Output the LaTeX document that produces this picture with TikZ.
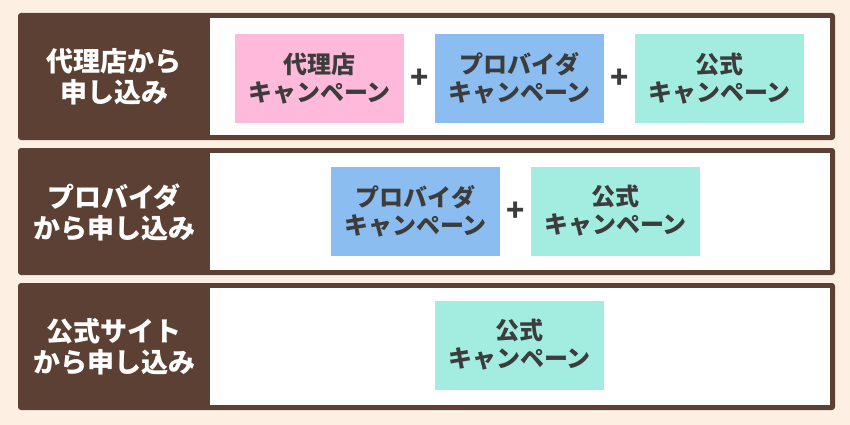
\documentclass[tikz,border=0pt]{standalone}
\usepackage{fontspec}
\setmainfont{Noto Sans CJK JP}
\definecolor{bg}{RGB}{253,240,226}
\definecolor{brn}{RGB}{91,64,51}
\definecolor{pinkc}{RGB}{255,185,218}
\definecolor{bluec}{RGB}{139,189,240}
\definecolor{tealc}{RGB}{163,237,224}
\definecolor{txt}{RGB}{60,60,60}
\begin{document}
\begin{tikzpicture}[x=1pt,y=-1pt,
  rowbg/.style={fill=brn,rounded corners=3pt},
  inner/.style={fill=white},
  camp/.style={minimum width=169pt,minimum height=89pt,inner sep=0pt,align=center,
    font=\fontsize{24}{28}\selectfont\bfseries,text=txt},
  lab/.style={align=center,font=\fontsize{27}{31}\selectfont\bfseries,text=white},
  plus/.style={font=\fontsize{30}{30}\selectfont\bfseries,text=txt,inner sep=0pt}]
\useasboundingbox (0,0) rectangle (850,425);
\fill[bg] (0,0) rectangle (850,425);
% rows
\foreach \y in {0,135,270}{
  \fill[rowbg] (18,13+\y) rectangle (835,140+\y);
  \fill[inner] (210,18+\y) rectangle (830,135+\y);
}
% labels
\node[lab] (l1) at (114,77) {代理店から\\申し込み};
\node[lab] (l2) at (114,212) {プロバイダ\\から申し込み};
\node[lab] (l3) at (114,347) {公式サイト\\から申し込み};
% row 1
\node[camp,fill=pinkc] (a1) at (319.5,78.5) {代理店\\キャンペーン};
\node[camp,fill=bluec] (a2) at (519.5,78.5) {プロバイダ\\キャンペーン};
\node[camp,fill=tealc] (a3) at (719.5,78.5) {公式\\キャンペーン};
\node[plus] (p1) at (419.5,79) {+};
\node[plus] (p2) at (619.5,79) {+};
% row 2
\node[camp,fill=bluec] (b1) at (415.5,211) {プロバイダ\\キャンペーン};
\node[camp,fill=tealc] (b2) at (615.5,211) {公式\\キャンペーン};
\node[plus] (p3) at (515.5,212) {+};
% row 3
\node[camp,fill=tealc] (c1) at (519.5,345) {公式\\キャンペーン};
\end{tikzpicture}
\end{document}
